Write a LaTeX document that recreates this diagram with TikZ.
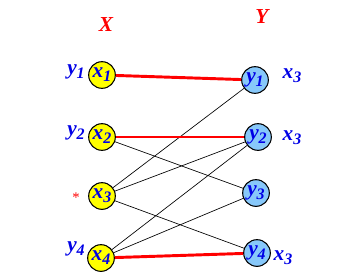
\documentclass[tikz,border=0pt]{standalone}
\usepackage{fontspec}
\setmainfont{Liberation Serif}
\usepackage{tikz}
\usetikzlibrary{positioning}
\definecolor{lblue}{RGB}{0,0,230}
\definecolor{nodeyel}{RGB}{255,255,0}
\definecolor{nodecyan}{RGB}{135,200,250}
\newcommand{\sub}[2]{#1\raisebox{-3pt}{\fontsize{12}{12}\selectfont #2}}

\begin{document}
\begin{tikzpicture}[x=0.75pt, y=-0.75pt,
  font=\fontsize{16}{16}\selectfont\bfseries\itshape,
  xnode/.style={draw, circle, minimum size=20pt, inner sep=0pt,
                fill=nodeyel, text=lblue, thick},
  ynode/.style={draw, circle, minimum size=20pt, inner sep=0pt,
                fill=nodecyan, text=lblue, thick},
  lbl/.style={text=lblue},
  match/.style={red, line width=2.2pt},
  edge/.style={black, line width=0.5pt}
]
\useasboundingbox (0,0) rectangle (363,279);

%% left side
\node[xnode] (x1) at (102,75)  {\sub{x}{1}};
\node[xnode] (x2) at (102,137) {\sub{x}{2}};
\node[xnode] (x3) at (102,196) {\sub{x}{3}};
\node[xnode] (x4) at (101,258) {\sub{x}{4}};

%% right side
\node[ynode] (y1) at (255,80)  {\sub{y}{1}};
\node[ynode] (y2) at (258,137) {\sub{y}{2}};
\node[ynode] (y3) at (256,193) {\sub{y}{3}};
\node[ynode] (y4) at (257,253) {\sub{y}{4}};

%% headings
\node[text=red] (hx) at (106,25) {X};
\node[text=red] (hy) at (262,17) {Y};

%% labels
\node[lbl] (l1) at (76,72)  {\sub{y}{1}};
\node[lbl] (l2) at (76,133) {\sub{y}{2}};
\node[text=red, font=\fontsize{11}{11}\selectfont] (l3) at (76,198) {*};
\node[lbl] (l4) at (76,249) {\sub{y}{4}};
\node[lbl] (r1) at (292,76)  {\sub{x}{3}};
\node[lbl] (r2) at (292,138) {\sub{x}{3}};
\node[lbl] (r4) at (283,258) {\sub{x}{3}};

%% edges
\draw[edge] (x2) -- (y3);
\draw[edge] (x3) -- (y1);
\draw[edge] (x3) -- (y2);
\draw[edge] (x3) -- (y4);
\draw[edge] (x4) -- (y2);
\draw[edge] (x4) -- (y3);

%% matching
\draw[match] (x1) -- (y1);
\draw[match] (x2) -- (y2);
\draw[match] (x4) -- (y4);

\end{tikzpicture}
\end{document}
